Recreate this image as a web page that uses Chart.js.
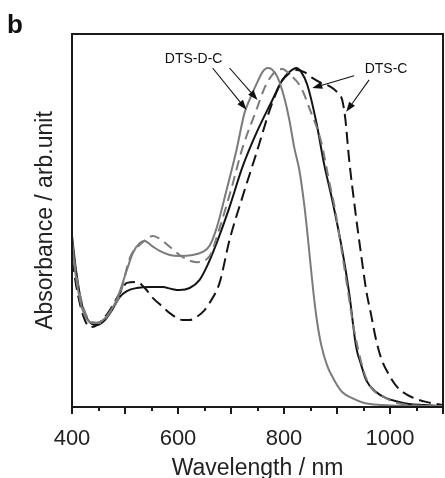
<!DOCTYPE html>
<html>
<head>
<meta charset="utf-8">
<script src="https://cdn.jsdelivr.net/npm/chart.js@4.4.0/dist/chart.umd.min.js"></script>
<style>
  html, body { margin: 0; padding: 0; background: #fff; }
  #wrap { width: 445px; height: 478px; position: relative; }
</style>
</head>
<body>
<div id="wrap"><canvas id="c" width="445" height="478"></canvas></div>
<script>
// ---- Data (wavelength in nm, absorbance in arb. units) ----
const dtsDCSolidNm  = [400, 405.6, 415, 424.5, 439.5, 452.7, 471.5, 486.5, 503.5, 514.8, 528, 537.3, 550.5, 565.5, 584.4, 603.2, 627.6, 646.4, 659.6, 672.8, 691.6, 710.4, 725.5, 734.9, 749.9, 759.3, 768.7, 776.3, 787.5, 800.7, 810.1, 819.5, 828.9, 838.3, 843.9, 849.6, 857.1, 862.8, 870.3, 881.6, 894.8, 909.8, 928.6, 951.2, 985.1, 1035.9, 1098];
const dtsDCSolidAbs = [0.497, 0.403, 0.315, 0.268, 0.247, 0.25, 0.279, 0.324, 0.403, 0.453, 0.482, 0.488, 0.474, 0.459, 0.447, 0.444, 0.447, 0.456, 0.474, 0.526, 0.638, 0.756, 0.865, 0.903, 0.956, 0.985, 0.997, 0.994, 0.971, 0.909, 0.844, 0.762, 0.697, 0.594, 0.515, 0.426, 0.315, 0.247, 0.182, 0.121, 0.079, 0.044, 0.026, 0.012, 0.006, 0.003, 0.003];

const dtsDCDashNm  = [400, 411.3, 424.5, 437.6, 452.7, 471.5, 490.3, 509.1, 531.7, 552.4, 569.3, 584.4, 608.8, 635.2, 659.6, 678.4, 701, 721.7, 748, 763.1, 776.3, 787.5, 797, 810.1, 832.7, 847.8, 870.3, 885.4, 894.8, 904.2, 917.4, 932.4, 955, 992.6, 1035.9, 1098];
const dtsDCDashAbs = [0.476, 0.359, 0.279, 0.25, 0.247, 0.279, 0.329, 0.438, 0.482, 0.503, 0.491, 0.471, 0.441, 0.426, 0.444, 0.526, 0.644, 0.762, 0.874, 0.938, 0.974, 0.991, 0.994, 0.979, 0.938, 0.879, 0.779, 0.662, 0.594, 0.506, 0.374, 0.226, 0.085, 0.026, 0.006, 0.003];

const dtsCSolidNm  = [400, 407.5, 418.8, 430.1, 447, 462.1, 475.3, 490.3, 503.5, 522.3, 546.7, 571.2, 588.1, 603.2, 622, 640.8, 655.9, 672.8, 697.2, 721.7, 748, 778.1, 797, 810.1, 823.3, 832.7, 844, 860.9, 876, 891, 909.8, 923, 936.2, 945.6, 955, 973.8, 992.6, 1017, 1035.9, 1064.1, 1098];
const dtsCSolidAbs = [0.503, 0.403, 0.3, 0.256, 0.241, 0.256, 0.285, 0.324, 0.341, 0.35, 0.353, 0.353, 0.347, 0.344, 0.35, 0.374, 0.418, 0.482, 0.588, 0.706, 0.806, 0.903, 0.962, 0.985, 0.997, 0.985, 0.947, 0.838, 0.712, 0.609, 0.462, 0.335, 0.176, 0.124, 0.079, 0.044, 0.026, 0.015, 0.009, 0.006, 0.003];

const dtsCDashNm  = [400, 411.3, 422.6, 433.9, 447, 467.7, 490.3, 503.5, 522.3, 537.3, 552.4, 569.3, 584.4, 608.8, 622, 635.2, 650.2, 659.6, 678.4, 697.2, 721.7, 748, 776.3, 795.1, 810.1, 823.3, 838.3, 853.4, 870.3, 885.4, 900.4, 909.8, 915.5, 923, 934.3, 945.6, 955, 964.4, 973.8, 983.2, 998.3, 1013.3, 1030.2, 1049, 1067.9, 1098];
const dtsCDashAbs = [0.432, 0.329, 0.262, 0.235, 0.241, 0.276, 0.335, 0.365, 0.368, 0.35, 0.321, 0.297, 0.276, 0.256, 0.256, 0.265, 0.285, 0.306, 0.365, 0.491, 0.618, 0.747, 0.888, 0.956, 0.982, 0.991, 0.985, 0.968, 0.953, 0.944, 0.926, 0.903, 0.85, 0.726, 0.579, 0.447, 0.344, 0.271, 0.197, 0.144, 0.094, 0.059, 0.038, 0.024, 0.015, 0.006];

// Axis ticks
const xLabelValues = [400, 600, 800, 1000];
const xMajorTicks = [400, 500, 600, 700, 800, 900, 1000, 1100];
const xMinorTicks = [450, 550, 650, 750, 850, 950, 1050];

// Annotation labels and arrows (data coordinates)
const labelTexts = ['DTS-D-C', 'DTS-C'];
const labelNm = [629.5, 992.6];
const labelAbs = [1.024, 0.994];
const arrowTailNm = [665.3, 697.2, 932.4, 960.6];
const arrowTailAbs = [0.997, 0.997, 0.974, 0.962];
const arrowHeadNm = [729.2, 750, 853.4, 917.4];
const arrowHeadAbs = [0.874, 0.903, 0.938, 0.868];

const zip = (xs, ys) => xs.map((x, i) => ({ x: x, y: ys[i] }));

const GRAY = '#7b7b7b';
const BLACK = '#141414';
const FONT = '"Liberation Sans", Arial, sans-serif';

const framePlugin = {
  id: 'frame',
  afterDraw(chart) {
    const ctx = chart.ctx;
    const a = chart.chartArea;
    const xs = chart.scales.x, ys = chart.scales.y;
    ctx.save();
    // frame
    ctx.strokeStyle = '#1a1a1a';
    ctx.lineWidth = 2;
    ctx.strokeRect(a.left, a.top, a.right - a.left, a.bottom - a.top);
    // ticks (outward)
    xMajorTicks.forEach(v => {
      const px = Math.round(xs.getPixelForValue(v));
      ctx.beginPath(); ctx.moveTo(px, a.bottom); ctx.lineTo(px, a.bottom + 7); ctx.stroke();
    });
    xMinorTicks.forEach(v => {
      const px = Math.round(xs.getPixelForValue(v));
      ctx.beginPath(); ctx.moveTo(px, a.bottom); ctx.lineTo(px, a.bottom + 4); ctx.stroke();
    });
    // arrows
    ctx.strokeStyle = '#111';
    ctx.fillStyle = '#111';
    ctx.lineWidth = 1.1;
    for (let i = 0; i < arrowTailNm.length; i++) {
      const x0 = xs.getPixelForValue(arrowTailNm[i]), y0 = ys.getPixelForValue(arrowTailAbs[i]);
      const x1 = xs.getPixelForValue(arrowHeadNm[i]), y1 = ys.getPixelForValue(arrowHeadAbs[i]);
      const ang = Math.atan2(y1 - y0, x1 - x0);
      const hl = 10, hw = 3.6;
      const bx = x1 - hl * Math.cos(ang), by = y1 - hl * Math.sin(ang);
      ctx.beginPath(); ctx.moveTo(x0, y0); ctx.lineTo(bx, by); ctx.stroke();
      ctx.beginPath();
      ctx.moveTo(x1, y1);
      ctx.lineTo(bx + hw * Math.sin(ang), by - hw * Math.cos(ang));
      ctx.lineTo(bx - hw * Math.sin(ang), by + hw * Math.cos(ang));
      ctx.closePath(); ctx.fill();
    }
    // labels
    ctx.font = '14px ' + FONT;
    ctx.textAlign = 'center';
    ctx.textBaseline = 'middle';
    ctx.fillStyle = '#111';
    for (let i = 0; i < labelTexts.length; i++) {
      ctx.fillText(labelTexts[i], xs.getPixelForValue(labelNm[i]), ys.getPixelForValue(labelAbs[i]));
    }
    // panel letter
    ctx.font = 'bold 26px ' + FONT;
    ctx.textAlign = 'left';
    ctx.textBaseline = 'alphabetic';
    ctx.fillText('b', 7, 33);
    ctx.restore();
  }
};

new Chart(document.getElementById('c'), {
  type: 'line',
  data: {
    datasets: [
      { label: 'DTS-D-C (dashed)', data: zip(dtsDCDashNm, dtsDCDashAbs), borderColor: GRAY, borderWidth: 2, borderDash: [10, 6], pointRadius: 0, cubicInterpolationMode: 'monotone', fill: false },
      { label: 'DTS-D-C', data: zip(dtsDCSolidNm, dtsDCSolidAbs), borderColor: GRAY, borderWidth: 2, pointRadius: 0, cubicInterpolationMode: 'monotone', fill: false },
      { label: 'DTS-C (dashed)', data: zip(dtsCDashNm, dtsCDashAbs), borderColor: BLACK, borderWidth: 2, borderDash: [12, 6], pointRadius: 0, cubicInterpolationMode: 'monotone', fill: false },
      { label: 'DTS-C', data: zip(dtsCSolidNm, dtsCSolidAbs), borderColor: BLACK, borderWidth: 2, pointRadius: 0, cubicInterpolationMode: 'monotone', fill: false }
    ]
  },
  options: {
    responsive: false,
    devicePixelRatio: 1,
    animation: false,
    layout: { padding: { top: 34, right: 2, left: 0, bottom: 0 } },
    plugins: { legend: { display: false }, tooltip: { enabled: false } },
    scales: {
      x: {
        type: 'linear', min: 400, max: 1100,
        grid: { display: false }, border: { display: false },
        afterBuildTicks: (s) => { s.ticks = xLabelValues.map(v => ({ value: v })); },
        afterFit: (s) => { s.height = 71; },
        ticks: { autoSkip: false, maxRotation: 0, padding: 11, color: '#222', font: { size: 22, family: FONT }, callback: (v) => String(v) },
        title: { display: true, text: 'Wavelength / nm', color: '#222', padding: { top: 0, bottom: -4 }, font: { size: 23, family: FONT } }
      },
      y: {
        type: 'linear', min: 0, max: 1.097,
        grid: { display: false }, border: { display: false },
        ticks: { display: false },
        afterFit: (s) => { s.width = 72; },
        title: { display: true, text: 'Absorbance / arb.unit', color: '#222', padding: { top: 32, bottom: 0 }, font: { size: 23, family: FONT } }
      }
    }
  },
  plugins: [framePlugin]
});
</script>
</body>
</html>
